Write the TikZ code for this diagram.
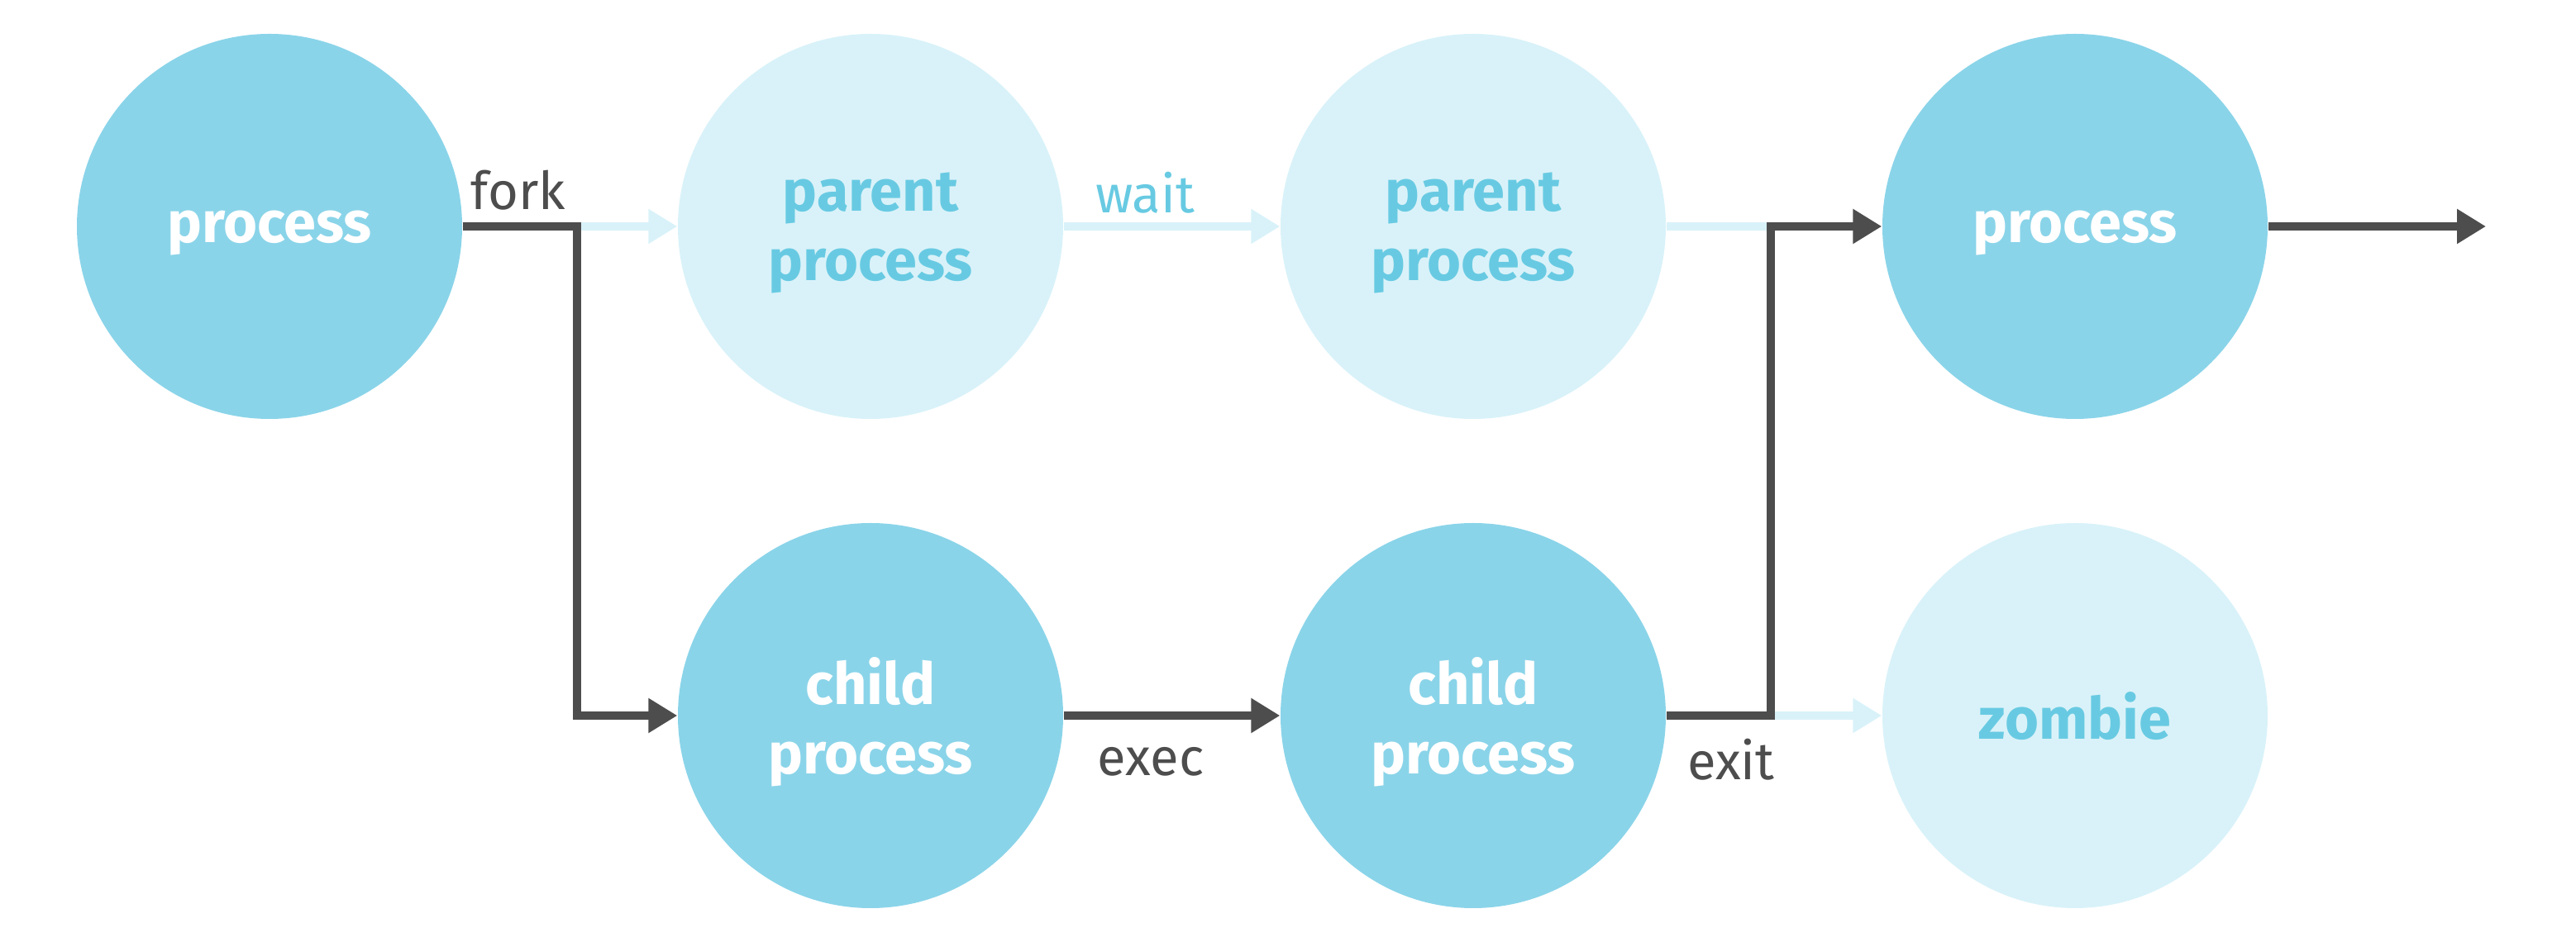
\documentclass[tikz,border=0pt]{standalone}
\usepackage{fontspec}
\setmainfont{Fira Sans}
\usetikzlibrary{arrows.meta, positioning}
\definecolor{pdark}{RGB}{138,212,233}
\definecolor{plight}{RGB}{217,242,249}
\definecolor{ptext}{RGB}{104,202,226}
\definecolor{pgray}{RGB}{77,77,77}

\begin{document}
\begin{tikzpicture}[
  proc/.style={circle,fill=pdark,text=white,minimum size=4.66cm,inner sep=0pt,
               text depth=0pt,font=\fontsize{20}{24}\selectfont\bfseries,align=center},
  ghost/.style={proc,fill=plight,text=ptext},
  darr/.style={-{Triangle[length=3.5mm,width=4mm]},pgray,line width=1mm},
  larr/.style={-{Triangle[length=3.5mm,width=4mm]},plight,line width=1mm},
  lbl/.style={font=\fontsize{18}{22}\selectfont,text=pgray}
]
\useasboundingbox (0,0) rectangle (31.16,11.40);

% Top row
\node[proc]  (proc1)   at (3.26,8.66)  {process};
\node[ghost] (parent1) at (10.53,8.66) {parent\\process};
\node[ghost] (parent2) at (17.82,8.66) {parent\\process};
\node[proc]  (proc2)   at (25.10,8.66) {process};

% Bottom row
\node[proc]  (child1) at (10.53,2.74) {child\\process};
\node[proc]  (child2) at (17.82,2.74) {child\\process};
\node[ghost] (zombie) at (25.10,2.74) {zombie};

% Corners and free end
\coordinate (forkpt) at (6.98,8.66);
\coordinate (exitpt) at (21.42,2.74);
\coordinate (joinpt) at (21.42,8.66);
\coordinate (endpt)  at (30.07,8.66);

% Light paths first
\draw[larr] (forkpt) -- (parent1);
\draw[larr] (parent1) -- (parent2);
\draw[plight,line width=1mm] (parent2) -- (joinpt);
\draw[larr] (exitpt) -- (zombie);

% Dark paths
\draw[darr] (proc1) -- (forkpt) |- (child1);
\draw[darr] (child1) -- (child2);
\draw[darr] (child2) -- (exitpt) |- (proc2);
\draw[darr] (proc2) -- (endpt);

% Labels
\node[lbl] (forklbl) at (6.27,9.10) {fork};
\node[lbl,text=ptext] (waitlbl) at (13.85,9.07) {wait};
\node[lbl] (execlbl) at (13.92,2.18) {exec};
\node[lbl] (exitlbl) at (20.94,2.21) {exit};
\end{tikzpicture}
\end{document}
